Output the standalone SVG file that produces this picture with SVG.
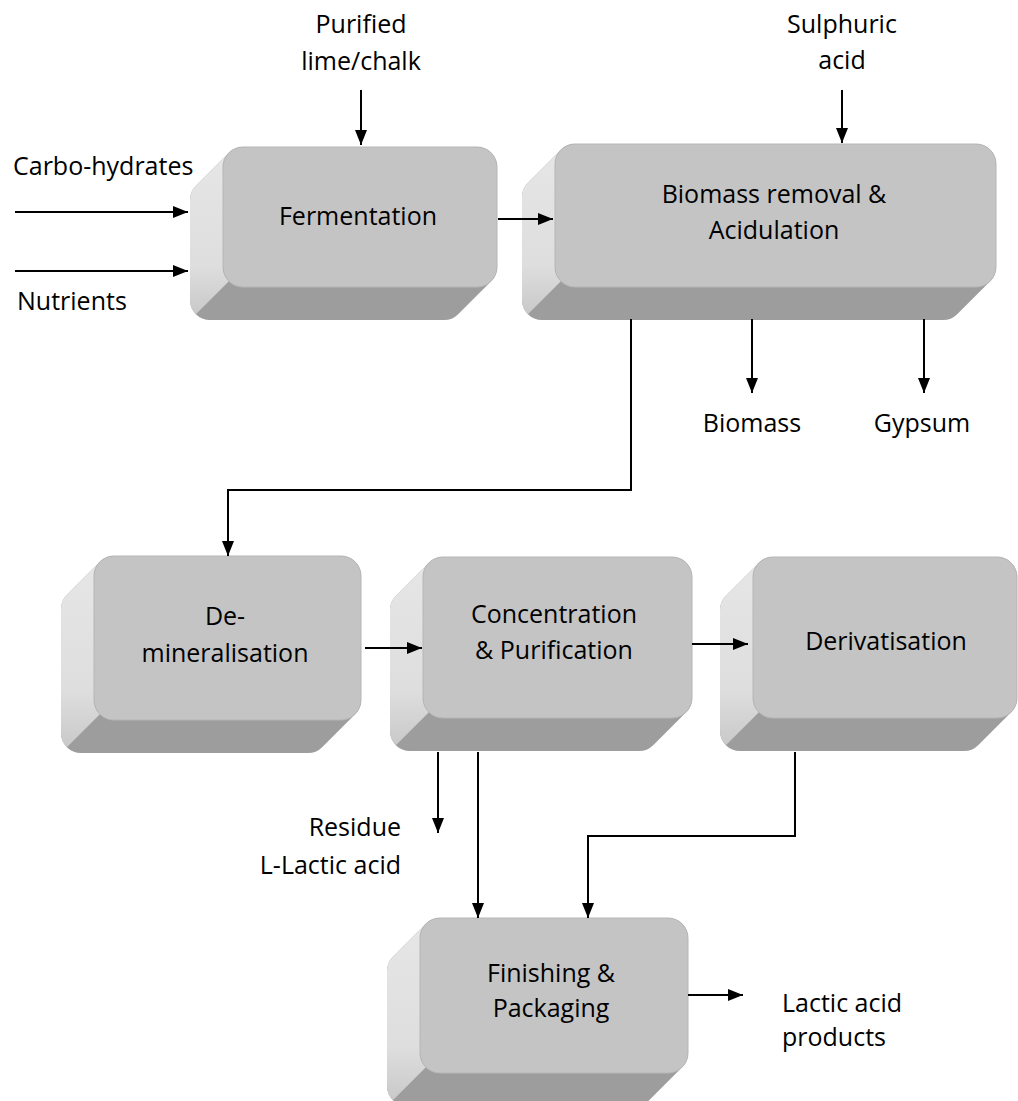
<svg xmlns="http://www.w3.org/2000/svg" width="1018" height="1101" viewBox="0 0 1018 1101">
<defs>
<style>
.side{fill:#9d9d9d;}
.left{fill:url(#lg);}
.face{fill:#c4c4c4;stroke:#b6b6b6;stroke-width:1;}
.t{font-family:"Open Sans","Noto Sans",sans-serif;font-size:25px;fill:#000;}
.m{text-anchor:middle;}
.e{text-anchor:end;}
.c{fill:none;stroke:#000;stroke-width:2;marker-end:url(#ah);}
</style>
<linearGradient id="lg" x1="0" y1="0" x2="0" y2="1">
<stop offset="0" stop-color="#e6e6e6"/>
<stop offset="0.7" stop-color="#dedede"/>
<stop offset="1" stop-color="#c9c9c9"/>
</linearGradient>
<marker id="ah" viewBox="0 0 15 12" refX="15" refY="6" markerWidth="15" markerHeight="12" markerUnits="userSpaceOnUse" orient="auto">
<path d="M0,0 L15,6 L0,12 Z" fill="#000"/>
</marker>
</defs>

<g id="fermentation" transform="translate(190,147)">
<path class="side" d="M53,0 H287 A20,20 0 0 1 307,20 V120 A20,20 0 0 1 301.14,134.14 L268.14,167.14 A20,20 0 0 1 254,173 H20 A20,20 0 0 1 0,153 V53 A20,20 0 0 1 5.86,38.86 L38.86,5.86 A20,20 0 0 1 53,0 Z"/>
<path class="left" d="M38.86,5.86 L5.86,38.86 A20,20 0 0 0 0,53 V153 A20,20 0 0 0 5.86,167.14 L38.86,134.14 A20,20 0 0 1 33,120 V20 A20,20 0 0 1 38.86,5.86 Z"/>
<rect class="face" x="33" y="0" width="274" height="140" rx="20"/>
<text class="t m" x="168" y="78">Fermentation</text>
</g>

<g id="biomass-removal" transform="translate(522,144)">
<path class="side" d="M53,0 H454 A20,20 0 0 1 474,20 V123 A20,20 0 0 1 468.14,137.14 L435.14,170.14 A20,20 0 0 1 421,176 H20 A20,20 0 0 1 0,156 V53 A20,20 0 0 1 5.86,38.86 L38.86,5.86 A20,20 0 0 1 53,0 Z"/>
<path class="left" d="M38.86,5.86 L5.86,38.86 A20,20 0 0 0 0,53 V156 A20,20 0 0 0 5.86,170.14 L38.86,137.14 A20,20 0 0 1 33,123 V20 A20,20 0 0 1 38.86,5.86 Z"/>
<rect class="face" x="33" y="0" width="441" height="143" rx="20"/>
<text class="t m" x="252" y="59">Biomass removal &amp;</text>
<text class="t m" x="252" y="95">Acidulation</text>
</g>

<g id="demineralisation" transform="translate(61,556)">
<path class="side" d="M53,0 H280 A20,20 0 0 1 300,20 V144 A20,20 0 0 1 294.14,158.14 L261.14,191.14 A20,20 0 0 1 247,197 H20 A20,20 0 0 1 0,177 V53 A20,20 0 0 1 5.86,38.86 L38.86,5.86 A20,20 0 0 1 53,0 Z"/>
<path class="left" d="M38.86,5.86 L5.86,38.86 A20,20 0 0 0 0,53 V177 A20,20 0 0 0 5.86,191.14 L38.86,158.14 A20,20 0 0 1 33,144 V20 A20,20 0 0 1 38.86,5.86 Z"/>
<rect class="face" x="33" y="0" width="267" height="164" rx="20"/>
<text class="t m" x="164" y="69">De-</text>
<text class="t m" x="164" y="106">mineralisation</text>
</g>

<g id="concentration" transform="translate(390,557)">
<path class="side" d="M53,0 H282 A20,20 0 0 1 302,20 V141 A20,20 0 0 1 296.14,155.14 L263.14,188.14 A20,20 0 0 1 249,194 H20 A20,20 0 0 1 0,174 V53 A20,20 0 0 1 5.86,38.86 L38.86,5.86 A20,20 0 0 1 53,0 Z"/>
<path class="left" d="M38.86,5.86 L5.86,38.86 A20,20 0 0 0 0,53 V174 A20,20 0 0 0 5.86,188.14 L38.86,155.14 A20,20 0 0 1 33,141 V20 A20,20 0 0 1 38.86,5.86 Z"/>
<rect class="face" x="33" y="0" width="269" height="161" rx="20"/>
<text class="t m" x="164" y="66">Concentration</text>
<text class="t m" x="164" y="102">&amp; Purification</text>
</g>

<g id="derivatisation" transform="translate(720,557)">
<path class="side" d="M53,0 H277 A20,20 0 0 1 297,20 V141 A20,20 0 0 1 291.14,155.14 L258.14,188.14 A20,20 0 0 1 244,194 H20 A20,20 0 0 1 0,174 V53 A20,20 0 0 1 5.86,38.86 L38.86,5.86 A20,20 0 0 1 53,0 Z"/>
<path class="left" d="M38.86,5.86 L5.86,38.86 A20,20 0 0 0 0,53 V174 A20,20 0 0 0 5.86,188.14 L38.86,155.14 A20,20 0 0 1 33,141 V20 A20,20 0 0 1 38.86,5.86 Z"/>
<rect class="face" x="33" y="0" width="264" height="161" rx="20"/>
<text class="t m" x="166" y="93">Derivatisation</text>
</g>

<g id="finishing" transform="translate(387,918)">
<path class="side" d="M53,0 H281 A20,20 0 0 1 301,20 V135 A20,20 0 0 1 295.14,149.14 L262.14,182.14 A20,20 0 0 1 248,188 H20 A20,20 0 0 1 0,168 V53 A20,20 0 0 1 5.86,38.86 L38.86,5.86 A20,20 0 0 1 53,0 Z"/>
<path class="left" d="M38.86,5.86 L5.86,38.86 A20,20 0 0 0 0,53 V168 A20,20 0 0 0 5.86,182.14 L38.86,149.14 A20,20 0 0 1 33,135 V20 A20,20 0 0 1 38.86,5.86 Z"/>
<rect class="face" x="33" y="0" width="268" height="155" rx="20"/>
<text class="t m" x="164" y="64">Finishing &amp;</text>
<text class="t m" x="164" y="99">Packaging</text>
</g>

<g id="connectors">
<path class="c" d="M15,212 H188"/>
<path class="c" d="M15,271 H188"/>
<path class="c" d="M361,90 V145"/>
<path class="c" d="M498,219 H553"/>
<path class="c" d="M842,90 V143"/>
<path class="c" d="M752,319 V393"/>
<path class="c" d="M924,319 V393"/>
<path class="c" d="M631,319 V490 H228 V556"/>
<path class="c" d="M365,648 H422"/>
<path class="c" d="M692,644 H748"/>
<path class="c" d="M438,752 V833"/>
<path class="c" d="M478,752 V918"/>
<path class="c" d="M795,752 V836 H588 V918"/>
<path class="c" d="M688,995 H743"/>
</g>

<g id="labels">
<text class="t m" x="361" y="33">Purified</text>
<text class="t m" x="361" y="70">lime/chalk</text>
<text class="t" x="13" y="175">Carbo-hydrates</text>
<text class="t" x="17" y="310">Nutrients</text>
<text class="t m" x="842" y="33">Sulphuric</text>
<text class="t m" x="842" y="69">acid</text>
<text class="t m" x="752" y="432">Biomass</text>
<text class="t m" x="922" y="432">Gypsum</text>
<text class="t e" x="401" y="836">Residue</text>
<text class="t e" x="401" y="874">L-Lactic acid</text>
<text class="t" x="782" y="1012">Lactic acid</text>
<text class="t" x="782" y="1046">products</text>
</g>
</svg>
